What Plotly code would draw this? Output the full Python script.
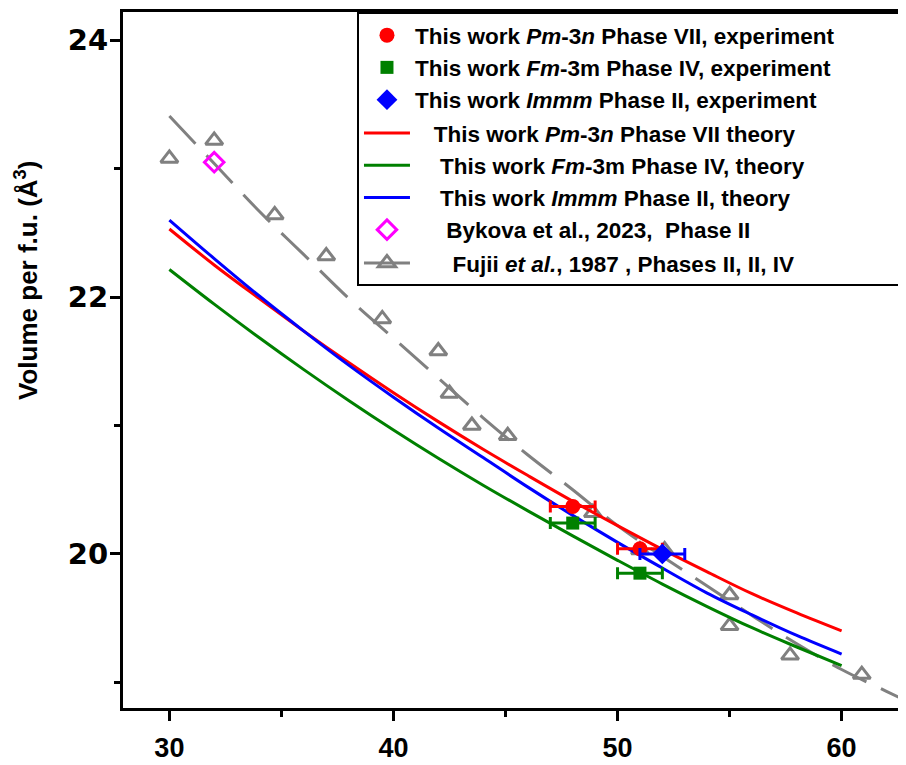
import plotly.graph_objects as go

# ---------------- data ----------------
P_theory = [30, 32, 34, 36, 38, 40, 42, 44, 46, 48, 50, 52, 54, 56, 58, 60]
V_th_PhaseVII = [22.53, 22.25, 21.99, 21.735, 21.49, 21.255, 21.03, 20.815,
                 20.61, 20.41, 20.22, 20.035, 19.86, 19.69, 19.54, 19.40]
V_th_PhaseIV = [22.215, 21.945, 21.685, 21.435, 21.195, 20.965, 20.745, 20.535,
                20.335, 20.14, 19.95, 19.765, 19.59, 19.425, 19.275, 19.13]
V_th_PhaseII = [22.60, 22.30, 22.01, 21.735, 21.47, 21.22, 20.98, 20.75,
                20.52, 20.30, 20.09, 19.89, 19.695, 19.525, 19.365, 19.22]

P_exp_VII = [48, 51]
V_exp_VII = [20.37, 20.04]
P_exp_IV = [48, 51]
V_exp_IV = [20.24, 19.85]
P_exp_II = [52]
V_exp_II = [20.0]
P_err = 1.0

P_bykova = [32.0]
V_bykova = [23.05]

P_fujii = [30.0, 32.0, 34.7, 37.0, 39.5, 42.0, 42.5, 43.5, 45.1, 48.9, 51.0,
           52.1, 55.0, 55.0, 57.7, 60.9]
V_fujii = [23.08, 23.22, 22.64, 22.32, 21.83, 21.58, 21.25, 21.00, 20.92,
           20.32, 20.03, 20.03, 19.68, 19.44, 19.21, 19.06]

P_fujii_fit = [30, 32, 34, 36, 38, 40, 42, 44, 46, 48, 50, 52, 54, 56, 58,
               60, 62, 63.3]
V_fujii_fit = [23.41, 23.04, 22.67, 22.33, 21.99, 21.68, 21.37, 21.06, 20.77,
               20.50, 20.22, 19.98, 19.75, 19.52, 19.30, 19.10, 18.93, 18.82]

x_ticks = [30, 40, 50, 60]
y_ticks = [20, 22, 24]

RED, GREEN, BLUE, MAG, GRAY = "#ff0000", "#008000", "#0000ff", "#ff00ff", "#808080"


def sp(n):
    return "&nbsp;" * n


fig = go.Figure()

# Fujii fit (dashed) and points
fig.add_trace(go.Scatter(x=P_fujii_fit, y=V_fujii_fit, mode="lines",
                         line=dict(color=GRAY, width=3, dash="38px,16px", shape="spline"),
                         showlegend=False, hoverinfo="skip"))
fig.add_trace(go.Scatter(x=P_fujii, y=V_fujii, mode="markers",
                         marker=dict(symbol="triangle-up-open", size=15, color=GRAY,
                                     line=dict(width=3, color=GRAY)),
                         showlegend=False))

# theory curves
for V, col, name, rank in [
    (V_th_PhaseVII, RED, sp(3) + "<b>This work <i>Pm</i>-3<i>n</i> Phase VII theory</b>", 4),
    (V_th_PhaseIV, GREEN, sp(4) + "<b>This work <i>Fm</i>-3m Phase IV, theory</b>", 5),
    (V_th_PhaseII, BLUE, sp(4) + "<b>This work <i>Immm</i> Phase II, theory</b>", 6),
]:
    fig.add_trace(go.Scatter(x=P_theory, y=V, mode="lines", name=name,
                             line=dict(color=col, width=3, shape="spline"),
                             legendgroup="th", legendrank=rank))

# Bykova
fig.add_trace(go.Scatter(x=P_bykova, y=V_bykova, mode="markers",
                         name=sp(5) + "<b>Bykova et al., 2023,  Phase II</b>",
                         marker=dict(symbol="diamond-open", size=15, color=MAG,
                                     line=dict(width=3, color=MAG)),
                         legendgroup="th", legendrank=7))

# experiments
for P, V, col, sym, size, name, rank in [
    (P_exp_VII, V_exp_VII, RED, "circle", 15,
     "<b>This work <i>Pm</i>-3<i>n</i> Phase VII, experiment</b>" + sp(15), 1),
    (P_exp_IV, V_exp_IV, GREEN, "square", 13,
     "<b>This work <i>Fm</i>-3m Phase IV, experiment</b>", 2),
    (P_exp_II, V_exp_II, BLUE, "diamond", 16,
     "<b>This work <i>Immm</i> Phase II, experiment</b>", 3),
]:
    fig.add_trace(go.Scatter(x=P, y=V, mode="markers", name=name,
                             marker=dict(symbol=sym, size=size, color=col),
                             error_x=dict(type="constant", value=P_err, color=col,
                                          thickness=3, width=6),
                             legendgroup="exp", legendrank=rank))

# Fujii legend entry (line + triangle)
fig.add_trace(go.Scatter(x=[None], y=[None], mode="lines+markers",
                         name=sp(6) + "<b>Fujii <i>et al.</i>, 1987 , Phases II, II, IV</b>",
                         line=dict(color=GRAY, width=3),
                         marker=dict(symbol="triangle-up-open", size=15, color=GRAY,
                                     line=dict(width=3, color=GRAY)),
                         legendgroup="fj", legendrank=8))

fig.update_layout(
    width=906, height=765,
    margin=dict(l=115, r=0, t=4, b=65, autoexpand=False),
    plot_bgcolor="white", paper_bgcolor="white",
    showlegend=True,
    legend=dict(x=0.2958, y=1.0, xanchor="left", yanchor="top",
                bgcolor="white", bordercolor="black", borderwidth=2,
                font=dict(family="Liberation Sans, Arial", size=22.5, color="black"),
                tracegroupgap=1, itemwidth=46, traceorder="grouped"),
    annotations=[dict(text="Volume per f.u. (Å<sup>3</sup>)", textangle=-90,
                      xref="paper", yref="paper", x=-0.1214, y=0.615,
                      xanchor="center", yanchor="middle", showarrow=False,
                      font=dict(family="Liberation Sans, Arial", size=26,
                                color="black", weight="bold"))],
)

fig.update_xaxes(
    range=[27.93, 63.23], tickvals=x_ticks, ticktext=[str(v) for v in x_ticks],
    showgrid=False, zeroline=False, automargin=False,
    showline=True, linecolor="black", linewidth=3, mirror=True,
    ticks="outside", ticklen=10, tickwidth=3, tickcolor="black",
    minor=dict(dtick=5, tick0=30, ticks="outside", ticklen=6, tickwidth=3, tickcolor="black"),
    tickfont=dict(family="Liberation Sans, Arial", size=27,
                  color="black", weight="bold"),
    ticklabelstandoff=4,
)
fig.update_yaxes(
    range=[18.80, 24.22], tickvals=y_ticks, ticktext=[str(v) for v in y_ticks],
    showgrid=False, zeroline=False, automargin=False,
    showline=True, linecolor="black", linewidth=3,
    ticks="outside", ticklen=10, tickwidth=3, tickcolor="black",
    minor=dict(dtick=1, tick0=19, ticks="outside", ticklen=6, tickwidth=3, tickcolor="black"),
    tickfont=dict(family="DejaVu Sans", size=29, color="black", weight="bold"),
    ticklabelstandoff=-4,
)

fig.write_html("out.html")
